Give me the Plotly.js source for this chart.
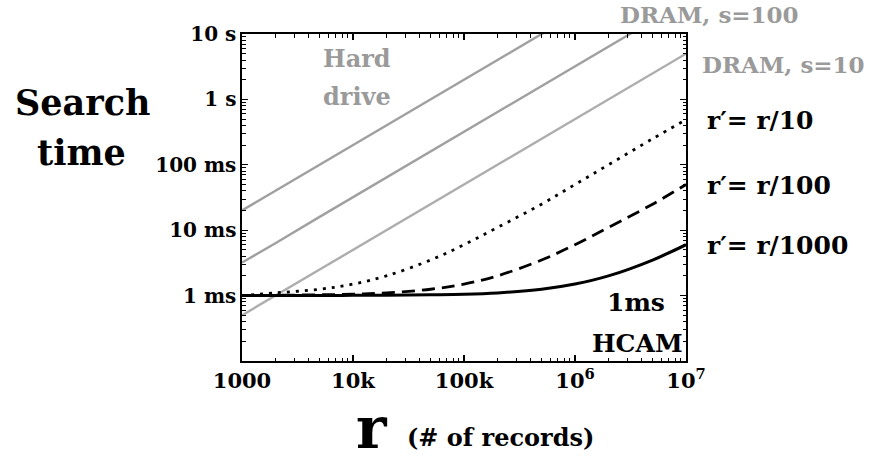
<!DOCTYPE html>
<html>
<head>
<meta charset="utf-8">
<script src="https://cdn.plot.ly/plotly-3.0.1.min.js"></script>
<style>html,body{margin:0;padding:0;background:#fff;}#chart{width:876px;height:461px;}</style>
</head>
<body>
<div id="chart"></div>
<script>
// number of records r
const records = [1000, 2000, 5000, 1e4, 2e4, 5e4, 1e5, 2e5, 5e5, 1e6, 2e6, 5e6, 1e7];
// search time in seconds
const hardDrive   = [0.02, 0.04, 0.1, 0.2, 0.4, 1.0, 2.0, 4.0, 10, 20, 40, 100, 200];
const dramS100    = [0.0032, 0.0063, 0.016, 0.032, 0.063, 0.16, 0.32, 0.63, 1.6, 3.2, 6.3, 16, 32];
const dramS10     = [0.0005, 0.001, 0.0025, 0.005, 0.01, 0.025, 0.05, 0.1, 0.25, 0.5, 1.0, 2.5, 5.0];
const hcamR10     = [0.00100, 0.00110, 0.00125, 0.0015, 0.0020, 0.0035, 0.006, 0.011, 0.025, 0.050, 0.10, 0.25, 0.49];
const hcamR100    = [0.00100, 0.00101, 0.00103, 0.00105, 0.0011, 0.00125, 0.0015, 0.0020, 0.0035, 0.006, 0.011, 0.025, 0.050];
const hcamR1000   = [0.00100, 0.00100, 0.00100, 0.00101, 0.00101, 0.00103, 0.00105, 0.0011, 0.00125, 0.0015, 0.0020, 0.0035, 0.006];

const xTickVals = [1000, 1e4, 1e5, 1e6, 1e7];
const xTickText = ['1000', '10k', '100k', '10<sup>6</sup>', '10<sup>7</sup>'];
const yTickVals = [1e-3, 1e-2, 1e-1, 1, 10];
const yTickText = ['1 ms', '10 ms', '100 ms', '1 s', '10 s'];

function minorVals(lo, hi) {
  const v = [];
  for (let e = lo; e < hi; e++) for (let m = 2; m <= 9; m++) v.push(m * Math.pow(10, e));
  return v;
}

const FONT = 'DejaVu Serif';
const GRAY = '#a0a0a0';
const GRAYTXT = '#9a9a9a';

const traces = [
  {x: records, y: hardDrive, mode: 'lines', line: {color: GRAY, width: 2.4}},
  {x: records, y: dramS100, mode: 'lines', line: {color: GRAY, width: 2.4}},
  {x: records, y: dramS10, mode: 'lines', line: {color: '#adadad', width: 2.4}},
  {x: records, y: hcamR10, mode: 'lines', line: {color: '#000', width: 2.8, dash: '3px,6px', shape: 'spline'}},
  {x: records, y: hcamR100, mode: 'lines', line: {color: '#000', width: 2.8, dash: '13px,7px', shape: 'spline'}},
  {x: records, y: hcamR1000, mode: 'lines', line: {color: '#000', width: 3, shape: 'spline'}}
];

function ann(text, x, y, size, color, xanchor) {
  return {text: text, x: x, y: y, xref: 'paper', yref: 'paper', showarrow: false,
    xanchor: xanchor || 'center', yanchor: 'middle',
    font: {family: FONT, size: size, color: color, weight: 'bold'}};
}
// helpers to convert pixel positions to paper coordinates
const L = 242, R = 686, T = 34, B = 361;
const px = x => (x - L) / (R - L);
const py = y => (B - y) / (B - T);

const layout = {
  width: 876, height: 461,
  margin: {l: L, r: 876 - R, t: T, b: 461 - B},
  paper_bgcolor: '#fff', plot_bgcolor: '#fff',
  showlegend: false,
  font: {family: FONT, size: 21, color: '#000', weight: 'bold'},
  xaxis: {
    type: 'log', range: [3, 7], tickmode: 'array', tickvals: xTickVals, ticktext: xTickText,
    ticks: 'inside', ticklen: 6, tickwidth: 1.3, tickcolor: '#000',
    showline: true, linecolor: '#000', linewidth: 1.6, mirror: 'ticks',
    showgrid: false, zeroline: false,
    tickfont: {family: FONT, size: 21, color: '#000', weight: 'bold'},
    minor: {tickmode: 'array', tickvals: minorVals(3, 7), ticks: 'inside', ticklen: 3.5, tickwidth: 1, tickcolor: '#000', showgrid: false}
  },
  yaxis: {
    type: 'log', range: [-4, 1], tickmode: 'array', tickvals: yTickVals, ticktext: yTickText,
    ticks: 'inside', ticklen: 6, tickwidth: 1.3, tickcolor: '#000',
    showline: true, linecolor: '#000', linewidth: 1.6, mirror: 'ticks',
    showgrid: false, zeroline: false,
    tickfont: {family: FONT, size: 20, color: '#000', weight: 'bold'},
    minor: {tickmode: 'array', tickvals: minorVals(-4, 1), ticks: 'inside', ticklen: 3.5, tickwidth: 1, tickcolor: '#000', showgrid: false}
  },
  annotations: [
    ann('Search', px(82), py(103), 35, '#000'),
    ann('time', px(81), py(152), 35, '#000'),
    ann('r', px(372), py(428), 58, '#000'),
    ann('(# of records)', px(405), py(437), 24, '#000', 'left'),
    ann('Hard', px(357), py(58), 24, GRAYTXT),
    ann('drive', px(357), py(97), 24, GRAYTXT),
    ann('DRAM, s=100', px(618), py(14), 23, GRAYTXT, 'left'),
    ann('DRAM, s=10', px(700), py(64), 23, GRAYTXT, 'left'),
    ann('r\u2032= r/10', px(705), py(121), 25, '#000', 'left'),
    ann('r\u2032= r/100', px(705), py(185), 25, '#000', 'left'),
    ann('r\u2032= r/1000', px(705), py(245), 25, '#000', 'left'),
    ann('1ms', px(636), py(302), 25, '#000'),
    ann('HCAM', px(637), py(343), 25, '#000')
  ]
};

Plotly.newPlot('chart', traces, layout, {staticPlot: true, displayModeBar: false});
</script>
</body>
</html>
